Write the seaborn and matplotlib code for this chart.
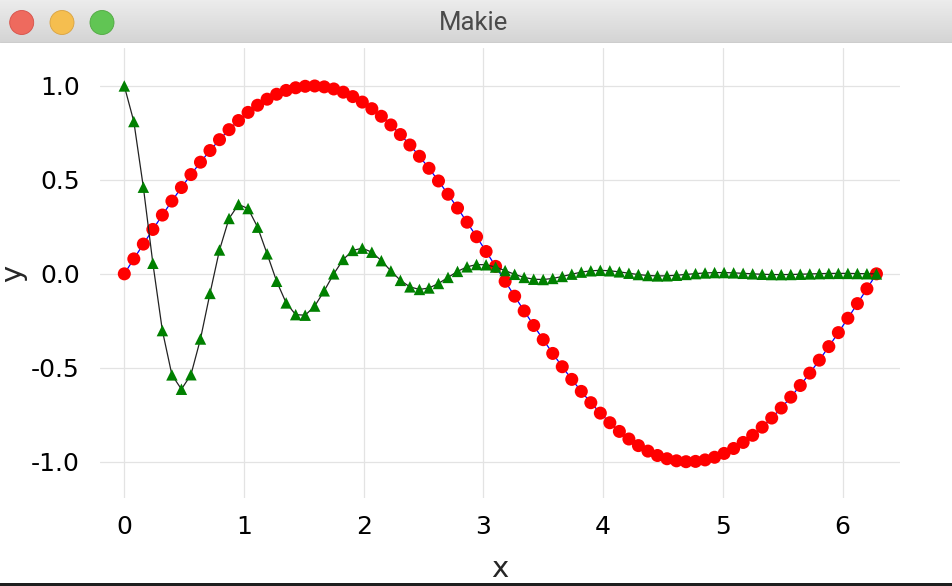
import numpy as np
import pandas as pd
import seaborn as sns
import matplotlib.pyplot as plt
from matplotlib.patches import Circle, Rectangle
from matplotlib.colors import LinearSegmentedColormap

# valeurs (80 points entre 0 et 2*pi)
x_vals = [
    0.0, 0.0795, 0.1591, 0.2386, 0.3181, 0.3977, 0.4772, 0.5567, 0.6363, 0.7158,
    0.7953, 0.8749, 0.9544, 1.0339, 1.1135, 1.1930, 1.2725, 1.3521, 1.4316, 1.5111,
    1.5907, 1.6702, 1.7497, 1.8293, 1.9088, 1.9883, 2.0679, 2.1474, 2.2270, 2.3065,
    2.3860, 2.4656, 2.5451, 2.6246, 2.7042, 2.7837, 2.8632, 2.9428, 3.0223, 3.1018,
    3.1814, 3.2609, 3.3404, 3.4200, 3.4995, 3.5790, 3.6586, 3.7381, 3.8176, 3.8972,
    3.9767, 4.0562, 4.1358, 4.2153, 4.2948, 4.3744, 4.4539, 4.5334, 4.6130, 4.6925,
    4.7720, 4.8516, 4.9311, 5.0106, 5.0902, 5.1697, 5.2492, 5.3288, 5.4083, 5.4879,
    5.5674, 5.6469, 5.7265, 5.8060, 5.8855, 5.9651, 6.0446, 6.1241, 6.2037, 6.2832,
]

y_rouge = [
    0.0, 0.0795, 0.1584, 0.2363, 0.3128, 0.3872, 0.4594, 0.5284, 0.5942, 0.6563,
    0.7141, 0.7674, 0.8160, 0.8593, 0.8973, 0.9295, 0.9558, 0.9762, 0.9903, 0.9982,
    0.9998, 0.9951, 0.9840, 0.9668, 0.9434, 0.9141, 0.8790, 0.8386, 0.7924, 0.7413,
    0.6857, 0.6257, 0.5617, 0.4943, 0.4236, 0.3503, 0.2748, 0.1975, 0.1190, 0.0397,
    -0.0397, -0.1190, -0.1975, -0.2748, -0.3503, -0.4236, -0.4943, -0.5617, -0.6257, -0.6857,
    -0.7413, -0.7924, -0.8386, -0.8790, -0.9141, -0.9434, -0.9668, -0.9840, -0.9951, -0.9998,
    -0.9982, -0.9903, -0.9762, -0.9558, -0.9295, -0.8973, -0.8593, -0.8160, -0.7674, -0.7141,
    -0.6563, -0.5942, -0.5284, -0.4594, -0.3872, -0.3128, -0.2363, -0.1584, -0.0795, 0.0,
]

y_vert = [
    1.0, 0.8106, 0.4612, 0.0563, -0.3021, -0.5378, -0.6142, -0.5370, -0.3468, -0.1042,
    0.1269, 0.2946, 0.3694, 0.3475, 0.2484, 0.1063, -0.0396, -0.1548, -0.2172, -0.2201,
    -0.1716, -0.0904, -0.0002, 0.0767, 0.1246, 0.1366, 0.1151, 0.0701, 0.0155, -0.0347,
    -0.0694, -0.0830, -0.0753, -0.0513, -0.0190, 0.0130, 0.0373, 0.0494, 0.0482, 0.0361,
    0.0173, -0.0026, -0.0191, -0.0287, -0.0302, -0.0245, -0.0140, -0.0018, 0.0091, 0.0162,
    0.0186, 0.0162, 0.0105, 0.0032, -0.0038, -0.0089, -0.0111, -0.0105, -0.0075, -0.0032,
    0.0012, 0.0047, 0.0066, 0.0067, 0.0052, 0.0027, 0.0000, -0.0023, -0.0038, -0.0041,
    -0.0035, -0.0021, -0.0005, 0.0010, 0.0021, 0.0025, 0.0023, 0.0016, 0.0006, -0.0004,
]

xticks = [0, 1, 2, 3, 4, 5, 6]
yticks = [-1.0, -0.5, 0.0, 0.5, 1.0]
ytick_labels = ["-1.0", "-0.5", "0.0", "0.5", "1.0"]

donnees = pd.DataFrame({"x": x_vals, "rouge": y_rouge, "vert": y_vert})

sns.set_theme(style="whitegrid")
plt.rcParams["font.family"] = ["DejaVu Sans"]
plt.rcParams["axes.unicode_minus"] = False

W, H = 952, 586
fig = plt.figure(figsize=(W / 100, H / 100), dpi=100)
fig.patch.set_facecolor("white")

# la zone du graphique
ax = fig.add_axes([100 / W, (H - 498) / H, 800 / W, 450 / H])
sns.lineplot(data=donnees, x="x", y="rouge", color="blue", linewidth=0.9,
             sort=False, estimator=None, ax=ax, zorder=2)
sns.scatterplot(data=donnees, x="x", y="rouge", color="red", s=88,
                edgecolor="none", linewidth=0, ax=ax, zorder=3)
sns.lineplot(data=donnees, x="x", y="vert", color="#222222", linewidth=0.9,
             sort=False, estimator=None, ax=ax, zorder=4)
sns.scatterplot(data=donnees, x="x", y="vert", color="green", marker="^", s=68,
                edgecolor="none", linewidth=0, ax=ax, zorder=5)

ax.set_xlim(-0.203, 6.48)
ax.set_ylim(-1.193, 1.202)
ax.set_xticks(xticks)
ax.set_xticklabels([str(t) for t in xticks])
ax.set_yticks(yticks)
ax.set_yticklabels(ytick_labels)
ax.tick_params(axis="both", length=0, labelsize=18, colors="black")
ax.tick_params(axis="x", pad=12.5)
ax.tick_params(axis="y", pad=14.4)
ax.grid(True, color="#e3e3e3", linewidth=0.9)
ax.set_axisbelow(True)
for s in ax.spines.values():
    s.set_visible(False)
ax.set_facecolor("white")

ax.set_xlabel("x", fontsize=21)
ax.set_ylabel("y", fontsize=21)
ax.xaxis.set_label_coords(0.5, -0.175)
ax.xaxis.label.set_verticalalignment("baseline")
ax.yaxis.set_label_coords(-0.108, 0.5)
ax.yaxis.label.set_verticalalignment("center")

# barre de titre de la fenêtre
barre = fig.add_axes([0, (H - 43) / H, 1, 43 / H])
degrade = LinearSegmentedColormap.from_list("barre", ["#ececec", "#d4d4d4"])
barre.imshow(np.linspace(0, 1, 43).reshape(-1, 1), aspect="auto", cmap=degrade,
             extent=[0, W, 43, 0])
barre.set_xlim(0, W)
barre.set_ylim(43, 0)
barre.axis("off")
barre.axhline(42.5, color="#b4b4b4", linewidth=1)
feux = [(21.7, "#ee6a5e", "#d65048"), (62, "#f5be4f", "#d9a23f"), (102, "#61c554", "#4fa840")]
for cx, couleur, bord in feux:
    barre.add_patch(Circle((cx, 22.5), 12, facecolor=couleur, edgecolor=bord, linewidth=0.6))
barre.text(473.5, 22.5, "Makie", ha="center", va="center", fontsize=18.5,
           color="#4a4a4a", family=["Roboto", "DejaVu Sans"])

# bord sombre en bas de la fenêtre
fig.add_artist(Rectangle((0, 0), 1, 3 / H, transform=fig.transFigure,
                         facecolor="#1e1e1e", edgecolor="none"))

fig.savefig("out.png", dpi=100)
